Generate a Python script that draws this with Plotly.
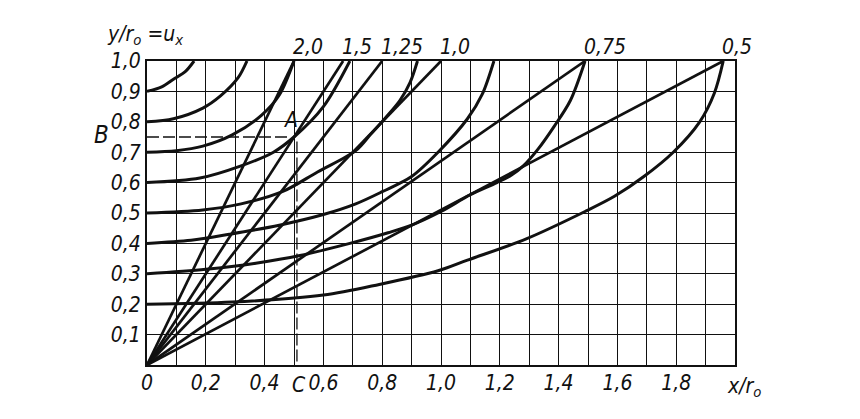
import plotly.graph_objects as go

# ---- data ----
# curves starting on the y-axis (value of y/r0 at x = 0)
c90_x = [0, 0.05, 0.09, 0.13, 0.16]
c90_y = [0.90, 0.915, 0.94, 0.965, 1.0]
c80_x = [0, 0.09, 0.19, 0.25, 0.31, 0.34]
c80_y = [0.80, 0.81, 0.845, 0.885, 0.945, 1.0]
c70_x = [0, 0.10, 0.19, 0.29, 0.39, 0.45, 0.50]
c70_y = [0.70, 0.705, 0.72, 0.757, 0.822, 0.888, 1.0]
c60_x = [0, 0.18, 0.32, 0.43, 0.50, 0.60, 0.69]
c60_y = [0.60, 0.615, 0.655, 0.70, 0.75, 0.85, 1.0]
c50_x = [0, 0.19, 0.32, 0.46, 0.58, 0.71, 0.76, 0.81, 0.86, 0.895, 0.92]
c50_y = [0.50, 0.51, 0.53, 0.57, 0.635, 0.705, 0.758, 0.812, 0.87, 0.93, 1.0]
c40_x = [0, 0.15, 0.28, 0.45, 0.60, 0.71, 0.80, 0.90, 0.99, 1.09, 1.14, 1.18]
c40_y = [0.40, 0.41, 0.43, 0.46, 0.495, 0.53, 0.57, 0.62, 0.70, 0.81, 0.89, 1.0]
c30_x = [0, 0.20, 0.37, 0.52, 0.69, 0.82, 0.90, 1.00, 1.10, 1.19, 1.24, 1.28, 1.33, 1.385, 1.44, 1.49]
c30_y = [0.30, 0.315, 0.335, 0.36, 0.40, 0.435, 0.46, 0.505, 0.56, 0.60, 0.625, 0.655, 0.71, 0.785, 0.87, 1.0]
c20_x = [0, 0.29, 0.60, 0.79, 0.99, 1.09, 1.29, 1.49, 1.59, 1.69, 1.79, 1.88, 1.93, 1.96]
c20_y = [0.20, 0.207, 0.23, 0.265, 0.31, 0.345, 0.415, 0.505, 0.555, 0.62, 0.70, 0.80, 0.895, 1.0]

# straight rays from the origin to the top edge (y/r0 = 1)
ray_labels = ["2,0", "1,5", "1,25", "1,0", "0,75", "0,5"]
ray_top_x = [0.50, 0.667, 0.80, 1.00, 1.49, 1.96]

# axis ticks (labelled) - grid every 0.1 drawn as minor grid
x_ticks = [0, 0.2, 0.4, 0.6, 0.8, 1.0, 1.2, 1.4, 1.6, 1.8]
x_ticktext = ["0", "0,2", "0,4", "0,6", "0,8", "1,0", "1,2", "1,4", "1,6", "1,8"]
y_ticks = [0.1, 0.2, 0.3, 0.4, 0.5, 0.6, 0.7, 0.8, 0.9, 1.0]
y_ticktext = ["0,1", "0,2", "0,3", "0,4", "0,5", "0,6", "0,7", "0,8", "0,9", "1,0"]

# construction point A and its projections B (on y) and C (on x)
point_a_x = 0.51
point_a_y = 0.75

# ---- figure ----
FONT = "Liberation Sans Narrow, DejaVu Sans Condensed, Liberation Sans, sans-serif"
INK = "#111111"

fig = go.Figure()

curves = [(c90_x, c90_y), (c80_x, c80_y), (c70_x, c70_y), (c60_x, c60_y),
          (c50_x, c50_y), (c40_x, c40_y), (c30_x, c30_y), (c20_x, c20_y)]
for cx, cy in curves:
    fig.add_trace(go.Scatter(x=cx, y=cy, mode="lines",
                             line=dict(color=INK, width=3, shape="spline", smoothing=0.9),
                             showlegend=False, hoverinfo="skip"))

for tx in ray_top_x:
    fig.add_trace(go.Scatter(x=[0, tx], y=[0, 1.0], mode="lines",
                             line=dict(color=INK, width=2.7),
                             showlegend=False, hoverinfo="skip"))

# dashed construction lines
fig.add_trace(go.Scatter(x=[0, point_a_x - 0.025], y=[point_a_y, point_a_y], mode="lines",
                         line=dict(color=INK, width=1.3, dash="12px,4px"),
                         showlegend=False, hoverinfo="skip"))
fig.add_trace(go.Scatter(x=[point_a_x, point_a_x], y=[point_a_y - 0.015, 0], mode="lines",
                         line=dict(color=INK, width=1.3, dash="12px,4px"),
                         showlegend=False, hoverinfo="skip"))

lab_font = dict(family=FONT, size=21, color=INK, style="italic")

annotations = []
for lab, tx in zip(ray_labels, ray_top_x):
    annotations.append(dict(x=tx, y=1.0, xref="x", yref="y", text=lab, showarrow=False,
                            xanchor="left", yanchor="bottom", xshift=-3, yshift=0,
                            font=lab_font))
annotations += [
    dict(x=point_a_x, y=point_a_y, xref="x", yref="y", text="A", showarrow=False,
         xanchor="right", yanchor="bottom", xshift=3, yshift=3, font=lab_font),
    dict(x=0, y=point_a_y, xref="x", yref="y", text="B", showarrow=False,
         xanchor="right", yanchor="middle", xshift=-36, yshift=2,
         font=dict(family=FONT, size=24, color=INK, style="italic")),
    dict(x=point_a_x, y=0, xref="x", yref="y", text="C", showarrow=False,
         xanchor="center", yanchor="top", xshift=2, yshift=-6, font=lab_font),
    dict(x=0, y=1.0, xref="x", yref="y", text="y/r<sub>o</sub> =u<sub>x</sub>", showarrow=False,
         xanchor="left", yanchor="bottom", xshift=-42, yshift=11, font=lab_font),
    dict(x=2.0, y=0, xref="x", yref="y", text="x/r<sub>o</sub>", showarrow=False,
         xanchor="left", yanchor="top", xshift=-10, yshift=-7, font=lab_font),
]

grid_minor = dict(dtick=0.1, tick0=0, showgrid=True, gridcolor=INK, gridwidth=1.1, ticks="")

fig.update_layout(
    width=852, height=411,
    margin=dict(l=139, r=125, t=53, b=54),
    paper_bgcolor="white", plot_bgcolor="white",
    showlegend=False,
    annotations=annotations,
    xaxis=dict(range=[0, 2.0], tickmode="array", tickvals=x_ticks, ticktext=x_ticktext,
               showgrid=True, gridcolor=INK, gridwidth=1.1, zeroline=False,
               minor=grid_minor,
               showline=True, linecolor=INK, linewidth=2, mirror=True,
               ticks="", tickfont=lab_font, ticklabelstandoff=-2, fixedrange=True),
    yaxis=dict(range=[0, 1.0], tickmode="array", tickvals=y_ticks, ticktext=y_ticktext,
               showgrid=True, gridcolor=INK, gridwidth=1.1, zeroline=False,
               minor=grid_minor,
               showline=True, linecolor=INK, linewidth=2, mirror=True,
               ticks="", tickfont=lab_font, ticklabelstandoff=0, fixedrange=True),
)

fig.write_html("out.html")
